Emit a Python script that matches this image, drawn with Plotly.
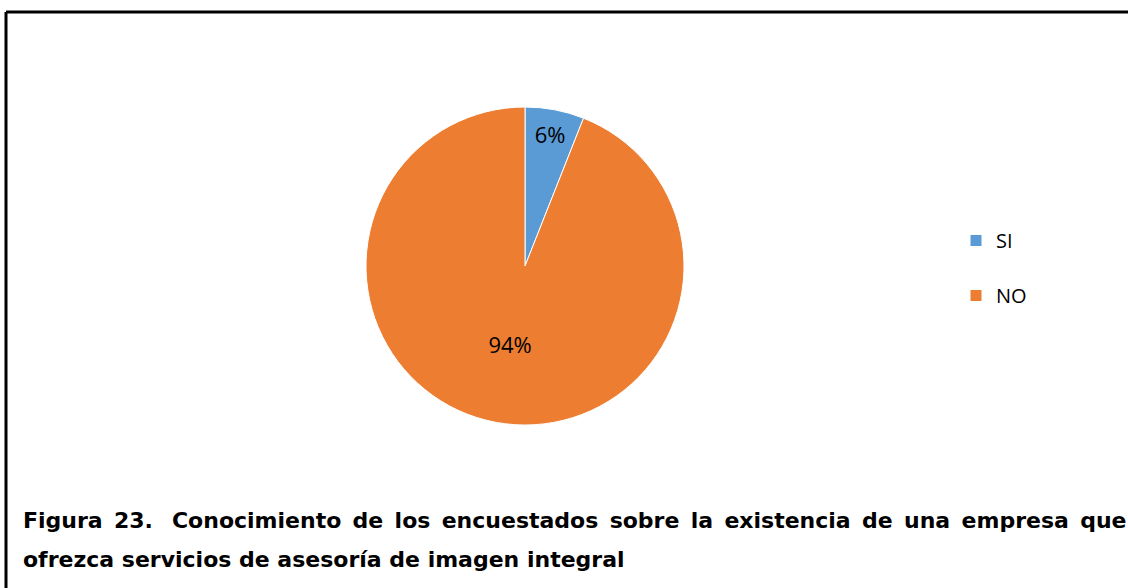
import plotly.graph_objects as go

labels = ["SI", "NO"]
values = [6, 94]
colors = ["#5B9BD5", "#ED7D31"]
caption_lines = [
    "Figura 23.&nbsp; Conocimiento de los encuestados sobre la existencia de una empresa que",
    "ofrezca servicios de asesoría de imagen integral",
]

W, H = 1128, 588

def px(x):
    return x / W

def py(y):
    return 1 - y / H

# legend entries get an empty second line so items are spaced like the reference
legend_labels = [l + "<br>&nbsp;" for l in labels]

# first caption line is justified in the reference: widen word gaps slightly
line1 = caption_lines[0].replace(" ", " \u2006")

fig = go.Figure()
fig.add_trace(go.Pie(
    labels=legend_labels,
    values=values,
    sort=False,
    direction="clockwise",
    rotation=0,
    marker=dict(colors=colors, line=dict(color="white", width=1)),
    texttemplate="%{percent:.0%}",
    textposition="inside",
    insidetextorientation="horizontal",
    textfont=dict(family="Open Sans", size=22, color="#000000"),
    domain=dict(x=[px(366), px(684)], y=[py(425), py(107)]),
    hovertemplate="%{value} (%{percent:.0%})<extra></extra>",
))

fig.update_layout(
    width=W, height=H,
    margin=dict(l=0, r=0, t=0, b=0),
    paper_bgcolor="white",
    plot_bgcolor="white",
    showlegend=True,
    legend=dict(
        x=px(956), y=py(281), xanchor="left", yanchor="middle",
        valign="top",
        font=dict(family="Open Sans", size=20, color="#000000"),
        bgcolor="rgba(0,0,0,0)",
    ),
    shapes=[
        dict(type="line", xref="paper", yref="paper",
             x0=px(6), y0=0, x1=px(6), y1=py(12),
             line=dict(color="black", width=3)),
        dict(type="line", xref="paper", yref="paper",
             x0=px(6), y0=py(12), x1=1, y1=py(12),
             line=dict(color="black", width=3)),
    ],
    annotations=[
        dict(text="<b>" + line1 + "</b>", xref="paper", yref="paper",
             x=px(21), y=py(520), xanchor="left", yanchor="middle", showarrow=False,
             font=dict(family="DejaVu Sans", size=22, color="black")),
        dict(text="<b>" + caption_lines[1] + "</b>", xref="paper", yref="paper",
             x=px(21), y=py(559), xanchor="left", yanchor="middle", showarrow=False,
             font=dict(family="DejaVu Sans", size=22, color="black")),
    ],
)

fig.write_html("out.html")
